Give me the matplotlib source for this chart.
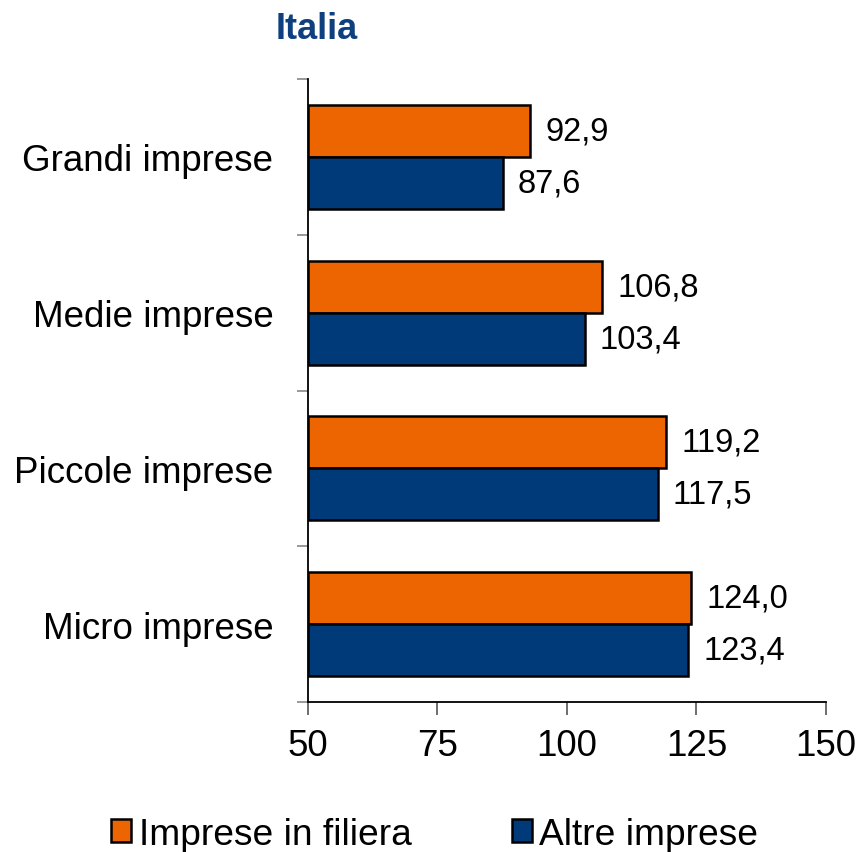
import matplotlib
matplotlib.use("Agg")
import matplotlib.pyplot as plt
import numpy as np

plt.rcParams['font.family'] = ['Liberation Sans', 'DejaVu Sans']

categories = ["Grandi imprese", "Medie imprese", "Piccole imprese", "Micro imprese"]
filiera = [92.9, 106.8, 119.2, 124.0]
altre = [87.6, 103.4, 117.5, 123.4]
series_names = ["Imprese in filiera", "Altre imprese"]
x_ticks = [50, 75, 100, 125, 150]

orange = "#EC6500"
blue = "#003A78"
title_color = "#0E3F7E"

fig = plt.figure(figsize=(8.61, 8.53), dpi=100)
ax = fig.add_axes([0.3577, 0.1758, 0.6016, 0.7304])

y = np.arange(len(categories))
h = 1 / 3
bars_o = ax.barh(y - h / 2, np.array(filiera) - 50, left=50, height=h,
                 color=orange, edgecolor="black", linewidth=1.8,
                 label=series_names[0])
bars_b = ax.barh(y + h / 2, np.array(altre) - 50, left=50, height=h,
                 color=blue, edgecolor="black", linewidth=1.8,
                 label=series_names[1])

def fmt(v):
    return f"{v:.1f}".replace(".", ",")

for yy, v in zip(y - h / 2, filiera):
    ax.annotate(fmt(v), (v, yy), xytext=(11, 0), textcoords="offset points",
                va="center", ha="left", fontsize=23.5)
for yy, v in zip(y + h / 2, altre):
    ax.annotate(fmt(v), (v, yy), xytext=(11, 0), textcoords="offset points",
                va="center", ha="left", fontsize=23.5)

ax.set_xlim(50, 150)
ax.set_ylim(len(categories) - 0.5, -0.5)
ax.set_xticks(x_ticks)
ax.set_xticklabels([str(t) for t in x_ticks], fontsize=26.5)
ax.tick_params(axis="x", direction="out", length=9, width=1.2,
               color="#555555", pad=10)

# group boundaries carry the tick marks, the centres carry the labels
ax.set_yticks(np.arange(-0.5, len(categories)), minor=False)
ax.set_yticklabels([])
ax.set_yticks(y, minor=True)
ax.set_yticklabels(categories, minor=True, fontsize=26.5)
ax.tick_params(axis="y", which="major", direction="out", length=8,
               width=1.2, color="#888888")
ax.tick_params(axis="y", which="minor", length=0, pad=25)

for side in ("top", "right"):
    ax.spines[side].set_visible(False)
for side in ("left", "bottom"):
    ax.spines[side].set_linewidth(1.3)
    ax.spines[side].set_color("black")

fig.text(0.368, 0.965, "Italia", ha="center", va="center",
         fontsize=26, fontweight="bold", color=title_color)

fig.legend(handles=[bars_o, bars_b], labels=series_names, loc="center",
           bbox_to_anchor=(0.5047, 0.021), ncol=2, frameon=False,
           fontsize=26.7, handlelength=0.54, handleheight=0.6,
           handletextpad=0.2, columnspacing=2.7, borderpad=0)

fig.savefig("out.png", dpi=100)
